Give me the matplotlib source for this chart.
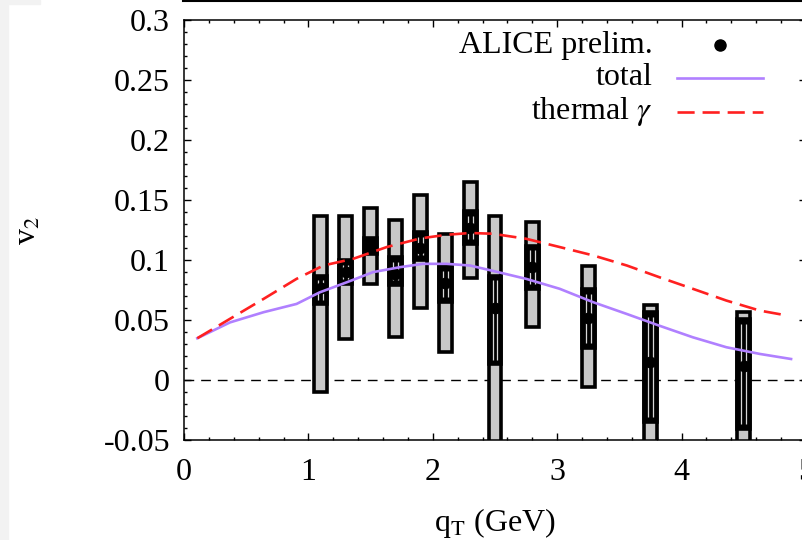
import numpy as np
import matplotlib
matplotlib.use("Agg")
import matplotlib.pyplot as plt
from matplotlib.patches import Rectangle
from matplotlib.lines import Line2D
from matplotlib.ticker import MultipleLocator, FuncFormatter

plt.rcParams['font.family'] = ['Liberation Serif', 'DejaVu Serif']
plt.rcParams['mathtext.fontset'] = 'stix'

# =========================
# DATA
# =========================
# ALICE preliminary points
qt = [1.1, 1.3, 1.5, 1.7, 1.9, 2.1, 2.3, 2.5, 2.8, 3.25, 3.75, 4.5]
v2 = [0.077, 0.090, 0.111, 0.088, 0.110, 0.081, 0.127, 0.060, 0.094, 0.052, 0.015, 0.012]
stat_dn = [0.014, 0.010, 0.006, 0.009, 0.010, 0.016, 0.0135, 0.047, 0.018, 0.025, 0.050, 0.053]
stat_up = [0.010, 0.010, 0.007, 0.0145, 0.013, 0.014, 0.014, 0.027, 0.018, 0.024, 0.0415, 0.039]
sys_lo = [-0.010, 0.0345, 0.0796, 0.0355, 0.0597, 0.023, 0.085, -0.060, 0.0438, -0.006, -0.052, -0.052]
sys_hi = [0.137, 0.137, 0.143, 0.1335, 0.154, 0.122, 0.165, 0.137, 0.1315, 0.0949, 0.0626, 0.057]

# total v2 curve
tot_x = [0.107, 0.37, 0.64, 0.905, 1.09, 1.31, 1.52, 1.735, 1.92, 2.11, 2.30, 2.48,
         2.75, 3.02, 3.29, 3.56, 3.82, 4.09, 4.36, 4.63, 4.88]
tot_y = [0.0348, 0.048, 0.0565, 0.0634, 0.073, 0.0815, 0.0899, 0.094, 0.0968, 0.0968,
         0.0954, 0.091, 0.0843, 0.076, 0.0648, 0.055, 0.0453, 0.0356, 0.0273, 0.0217, 0.0175]

# thermal photon curve
th_x = [0.107, 0.37, 0.64, 0.905, 1.12, 1.36, 1.63, 1.90, 2.11, 2.30, 2.48,
        2.75, 3.02, 3.29, 3.56, 3.82, 4.09, 4.36, 4.63, 4.85]
th_y = [0.0348, 0.051, 0.0676, 0.0843, 0.0954, 0.101, 0.1108, 0.118, 0.121, 0.1225, 0.1219,
        0.1177, 0.1108, 0.1038, 0.0954, 0.0857, 0.076, 0.0662, 0.0578, 0.0537]

legend_labels = ["ALICE prelim.", "total", r"thermal $\gamma$"]

# =========================
# FIGURE
# =========================
FS = 23
fig = plt.figure(figsize=(8.02, 5.40), dpi=100)
ax = fig.add_axes([184 / 802, 100 / 540, 622 / 802, 420 / 540])

ax.axhline(0, color='black', lw=1.0, ls=(0, (7, 5)), zorder=1)

half = 0.052
for x, y, dn, up, lo, hi in zip(qt, v2, stat_dn, stat_up, sys_lo, sys_hi):
    # systematic box
    ax.add_patch(Rectangle((x - half, lo), 2 * half, hi - lo, facecolor='#c8c8c8',
                           edgecolor='black', lw=2.6, zorder=2))
    # statistical bar
    ax.add_patch(Rectangle((x - half, y - dn), 2 * half, dn + up, facecolor='black',
                           edgecolor='black', lw=2.6, zorder=3))
    for off in (-0.02, 0.02):
        ax.plot([x + off, x + off], [y - dn + 0.004, y + up - 0.004], color='#d8d8d8',
                lw=0.9, zorder=4, solid_capstyle='butt')
    ax.plot(x, y, 'o', color='black', ms=7.5, zorder=5)

ax.plot(tot_x, tot_y, color='#b080ff', lw=1.9, zorder=6)
ax.plot(th_x, th_y, color='#ff2020', lw=1.9, ls=(0, (6.5, 3)), zorder=6)

ax.set_xlim(0, 5)
ax.set_ylim(-0.05, 0.3)
ax.xaxis.set_major_locator(MultipleLocator(1))
ax.xaxis.set_minor_locator(MultipleLocator(0.2))
ax.yaxis.set_major_locator(MultipleLocator(0.05))
ax.yaxis.set_minor_locator(MultipleLocator(0.01))
ax.yaxis.set_major_formatter(FuncFormatter(lambda v, p: '%g' % round(v, 3)))
ax.xaxis.set_major_formatter(FuncFormatter(lambda v, p: '%g' % v))
ax.tick_params(which='both', direction='in', top=True, right=True, width=1.0, labelsize=FS)
ax.tick_params(which='major', length=5)
ax.tick_params(which='minor', length=2.5)
ax.tick_params(axis='y', pad=10)
ax.tick_params(axis='x', pad=13)
for s in ax.spines.values():
    s.set_linewidth(1.1)

ax.set_xlabel(r'q$_\mathrm{T}$ (GeV)', fontsize=FS, labelpad=14)
ax.set_ylabel(r'v$_2$', fontsize=FS, labelpad=44)

# legend (gnuplot style: text left, sample right)
rows = [0.940, 0.862, 0.781]
for lab, yy in zip(legend_labels, rows):
    ax.text(0.754, yy, lab, transform=ax.transAxes, ha='right', va='center', fontsize=FS)
ax.plot([0.862], [rows[0]], 'o', color='black', ms=8, transform=ax.transAxes, clip_on=False)
ax.plot([0.793, 0.931], [rows[1]] * 2, color='#b080ff', lw=1.9, transform=ax.transAxes)
ax.plot([0.793, 0.931], [rows[2]] * 2, color='#ff2020', lw=1.9, ls=(0, (6.5, 3)),
        transform=ax.transAxes)

# bits of the surrounding page
fig.patches.append(Rectangle((0, 0), 8 / 802, 1, transform=fig.transFigure,
                             color='#f2f2f2', zorder=0))
fig.patches.append(Rectangle((0, 1 - 4 / 540), 40 / 802, 4 / 540, transform=fig.transFigure,
                             color='#f2f2f2', zorder=0))
fig.add_artist(Line2D([183 / 802, 1], [1 - 1 / 540] * 2, color='black', lw=1.5))

fig.savefig('out.png', dpi=100)
